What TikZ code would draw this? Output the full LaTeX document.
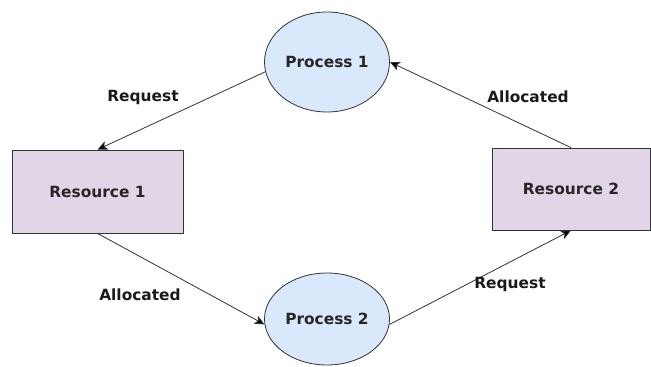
\documentclass[tikz,border=0pt]{standalone}
\usepackage{fontspec}
\setmainfont{DejaVu Sans}
\usepackage{xcolor}
\usetikzlibrary{shapes.geometric, arrows.meta, positioning, calc}
\definecolor{procColor}{HTML}{DAE8FC}
\definecolor{resColor}{HTML}{E1D5E7}
\definecolor{lineColor}{HTML}{333333}

\begin{document}
\begin{tikzpicture}[
    x=1pt, y=1pt,
    proc/.style={ellipse, draw=lineColor, fill=procColor, line width=0.8pt, minimum width=125pt, minimum height=100pt, inner sep=0pt, font=\fontsize{15.4}{18}\selectfont\bfseries, text=black!85},
    res/.style={rectangle, draw=black!80, fill=resColor, line width=0.8pt, minimum width=171pt, minimum height=83pt, inner sep=0pt, font=\fontsize{15.4}{18}\selectfont\bfseries, text=black!85},
    lbl/.style={font=\fontsize{15.4}{18}\selectfont\bfseries, text=black!90, inner sep=0pt},
    flow/.style={-{Stealth[length=10pt, width=9pt, inset=2.5pt, fill=black]}, draw=lineColor, line width=0.8pt}
]
\useasboundingbox (0,0) rectangle (651,367);

% --- Processes ---
\node[proc] (p1) at (327,305) {Process 1};
\node[proc, minimum height=92pt] (p2) at (327,48) {Process 2};

% --- Resources ---
\node[res] (r1) at (97.5,175.5) {Resource 1};
\node[res, minimum width=158pt, minimum height=82pt] (r2) at (571,178) {Resource 2};

% --- Edges ---
\draw[flow] (p1.189) -- (r1.north);
\draw[flow] (r2.north) -- (p1.east);
\draw[flow] (r1.south) -- (p2.185);
\draw[flow] (p2.355) -- (r2.south);

% --- Labels ---
\node[lbl] (req1) at (143,270) {Request};
\node[lbl] (alloc2) at (528,270) {Allocated};
\node[lbl] (alloc1) at (140,72) {Allocated};
\node[lbl] (req2) at (510,83) {Request};
\end{tikzpicture}
\end{document}
